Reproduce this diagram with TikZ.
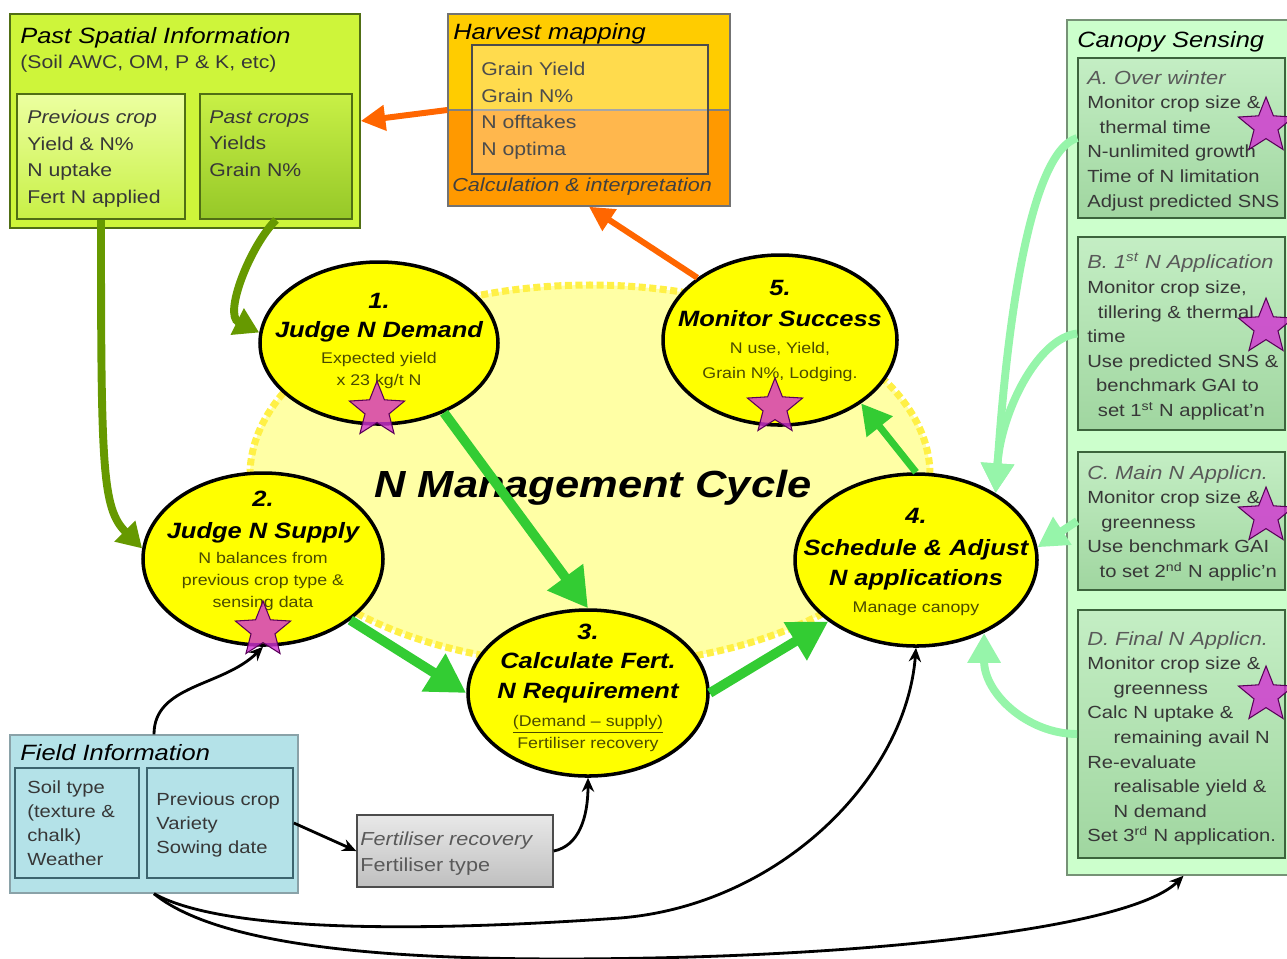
\documentclass[tikz,border=0pt]{standalone}
\usepackage{fontspec}
\setmainfont{Liberation Sans}[FakeStretch=1.15]
\usetikzlibrary{arrows.meta,shapes.geometric,fit,calc}

\newlength\pxu
\setlength\pxu{0.02cm}

\definecolor{limeout}{RGB}{206,245,58}
\definecolor{limelt}{RGB}{236,255,160}
\definecolor{limemid}{RGB}{200,240,70}
\definecolor{limedk}{RGB}{150,200,40}
\definecolor{limeedge}{RGB}{80,110,20}
\definecolor{hvtop}{RGB}{255,204,0}
\definecolor{hvbot}{RGB}{255,153,0}
\definecolor{canout}{RGB}{204,255,204}
\definecolor{cantop}{RGB}{196,238,196}
\definecolor{canbot}{RGB}{160,214,160}
\definecolor{canedge}{RGB}{60,100,60}
\definecolor{fieldbg}{RGB}{180,226,232}
\definecolor{fieldedge}{RGB}{60,100,110}
\definecolor{cycbg}{RGB}{255,255,165}
\definecolor{cycdot}{RGB}{255,240,70}
\definecolor{cycfill}{RGB}{255,255,0}
\definecolor{cycgreen}{RGB}{51,204,51}
\definecolor{pastgreen}{RGB}{102,153,0}
\definecolor{cangreen}{RGB}{150,245,170}
\definecolor{hvorange}{RGB}{255,102,0}
\definecolor{starfill}{RGB}{210,50,210}
\definecolor{stardraw}{RGB}{90,0,90}
\definecolor{subtext}{RGB}{75,75,0}
\definecolor{bodytext}{RGB}{55,55,55}

\newcommand\ttlfont{\fontsize{12.6}{15}\selectfont\itshape}
\newcommand\bodyfont{\fontsize{10.5}{15.1}\selectfont}
\newcommand\canfont{\fontsize{10}{14}\selectfont}
\newcommand\csub{\fontsize{10.8}{14}\selectfont\itshape\color{black!65}}
\newcommand\elltitle{\fontsize{12.6}{16.5}\selectfont\bfseries\itshape}
\newcommand\ellsub{\fontsize{8.8}{12}\selectfont\mdseries\upshape\color{subtext}}

\tikzset{
  outbox/.style={rectangle, inner sep=0pt, line width=0.8pt},
  inbox/.style={rectangle, inner sep=0pt, line width=1pt},
  txt/.style={anchor=north west, inner sep=0pt, align=left},
  ell/.style={ellipse, draw=black, line width=2pt, fill=cycfill, inner sep=0pt},
  elltxt/.style={inner sep=0pt, align=center, font=\elltitle},
  starmark/.style={star, star points=5, star point ratio=2.3, minimum size=58\pxu,
    inner sep=0pt, fill=starfill, fill opacity=0.8, draw=stardraw, line width=0.6pt},
  cycarrow/.style={draw=cycgreen, line width=5.5pt, -{Triangle[length=22pt,width=24pt]}},
  fourarrow/.style={draw=cycgreen, line width=4pt, -{Triangle[length=17pt,width=18pt]}},
  pastarrow/.style={draw=pastgreen, line width=4.5pt, -{Triangle[length=14pt,width=16pt]}},
  canarrow/.style={draw=cangreen, line width=4.5pt, -{Triangle[length=17pt,width=18pt]}},
  hvarrow/.style={draw=hvorange, line width=3.4pt, -{Triangle[length=14pt,width=14pt]}},
  infoarrow/.style={draw=black, line width=1.6pt, -{Stealth[length=8pt,width=7pt]}}
}

\begin{document}
\begin{tikzpicture}[x=0.02cm,y=-0.02cm]
\useasboundingbox (0,0) rectangle (1287,958);
\clip (0,0) rectangle (1287,958);

\node[ellipse, minimum width=680\pxu, minimum height=380\pxu, fill=cycbg,
  draw=cycdot, line width=4pt, dotted] (cyc) at (590,475) {};

\node[outbox, fill=limeout, draw=limeedge, fit={(10,14) (360,228)}] (past) {};
\node[inbox, top color=limelt, bottom color=limemid, draw=limeedge, fit={(17,94) (185,219)}] (pastL) {};
\node[inbox, top color=limemid, bottom color=limedk, draw=limeedge, fit={(200,94) (352,219)}] (pastR) {};
\node[txt, font=\ttlfont] (pastttl) at (20,27) {Past Spatial Information};
\node[txt, font=\bodyfont, text=bodytext] (pastsub) at (20,55) {(Soil AWC, OM, P \& K, etc)};
\node[txt, font=\bodyfont, text=bodytext] (pastLtxt) at (27,110)
  {\textit{Previous crop}\\Yield \& N\%\\N uptake\\Fert N applied};
\node[txt, font=\bodyfont, text=bodytext] (pastRtxt) at (209,110)
  {\textit{Past crops}\\Yields\\Grain N\%};

\node[outbox, fill=hvbot, draw=black!55, fit={(448,14) (730,206)},
  path picture={\fill[hvtop] (path picture bounding box.north west) rectangle (path picture bounding box.east);
    \draw[black!50, line width=0.6pt] (path picture bounding box.west) -- (path picture bounding box.east);}] (harvest) {};
\node[inbox, fill=white, fill opacity=0.3, draw=black!70, fit={(472,45) (708,174)}] (hvin) {};
\node[txt, font=\ttlfont] (hvttl) at (453,23) {Harvest mapping};
\node[txt, font=\bodyfont, text=black!70] (hvtxt) at (481,62)
  {Grain Yield\\Grain N\%\\N offtakes\\N optima};
\node[txt, font=\fontsize{10.7}{15}\selectfont\itshape, text=black!75] (hvcalc) at (452,178) {Calculation \& interpretation};

\node[outbox, fill=canout, draw=canedge!70, fit={(1067,20) (1300,875)}] (canopy) {};
\node[inbox, top color=cantop, bottom color=canbot, draw=canedge, fit={(1078,58) (1285,218)}] (canA) {};
\node[inbox, top color=cantop, bottom color=canbot, draw=canedge, fit={(1078,237) (1285,430)}] (canB) {};
\node[inbox, top color=cantop, bottom color=canbot, draw=canedge, fit={(1078,452) (1285,590)}] (canC) {};
\node[inbox, top color=cantop, bottom color=canbot, draw=canedge, fit={(1078,610) (1285,858)}] (canD) {};
\node[txt, font=\ttlfont] (canttl) at (1077,31) {Canopy Sensing};
\node[txt, font=\canfont, text=bodytext] (canAtxt) at (1087,70)
  {{\csub A. Over winter}\\Monitor crop size \&\\\hspace*{7pt}thermal time\\N-unlimited growth\\Time of N limitation\\Adjust predicted SNS};
\node[txt, font=\canfont, text=bodytext] (canBtxt) at (1087,253)
  {{\csub B. 1\textsuperscript{st} N Application}\\Monitor crop size,\\\hspace*{6pt}tillering \& thermal\\time\\Use predicted SNS \&\\\hspace*{5pt}benchmark GAI to\\\hspace*{6pt}set 1\textsuperscript{st} N applicat'n};
\node[txt, font=\canfont, text=bodytext] (canCtxt) at (1087,465)
  {{\csub C. Main N Applicn.}\\Monitor crop size \&\\\hspace*{8pt}greenness\\Use benchmark GAI\\\hspace*{7pt}to set 2\textsuperscript{nd} N applic'n};
\node[txt, font=\canfont, text=bodytext] (canDtxt) at (1087,631)
  {{\csub D. Final N Applicn.}\\Monitor crop size \&\\\hspace*{15pt}greenness\\Calc N uptake \&\\\hspace*{15pt}remaining avail N\\Re-evaluate\\\hspace*{15pt}realisable yield \&\\\hspace*{15pt}N demand\\Set 3\textsuperscript{rd} N application.};

\node[outbox, fill=fieldbg, draw=fieldedge!60, fit={(10,735) (298,893)}] (field) {};
\node[inbox, fill=fieldbg, draw=fieldedge, fit={(15,768) (139,878)}] (fieldL) {};
\node[inbox, fill=fieldbg, draw=fieldedge, fit={(147,768) (293,878)}] (fieldR) {};
\node[txt, font=\ttlfont] (fieldttl) at (20,744) {Field Information};
\node[txt, font=\fontsize{10}{13.8}\selectfont, text=bodytext] (fieldLtxt) at (27,780)
  {Soil type\\(texture \&\\chalk)\\Weather};
\node[txt, font=\fontsize{10}{13.8}\selectfont, text=bodytext] (fieldRtxt) at (156,792)
  {Previous crop\\Variety\\Sowing date};

\node[outbox, top color=gray!18, bottom color=gray!50, draw=gray!60!black, fit={(357,815) (553,887)}] (fert) {};
\node[txt, font=\fontsize{10.7}{14.7}\selectfont, text=black!65] (ferttxt) at (360,832)
  {\textit{Fertiliser recovery}\\Fertiliser type};

\node[font=\fontsize{21.5}{24}\selectfont\bfseries\itshape] (cycttl) at (593,488) {N Management Cycle};

\begin{scope}[every node/.style={ell}]
  \node[minimum width=238\pxu, minimum height=162\pxu] (1) at (379,343) {};
  \node[minimum width=240\pxu, minimum height=172\pxu] (2) at (263,559) {};
  \node[minimum width=240\pxu, minimum height=166\pxu] (3) at (588,693) {};
  \node[minimum width=242\pxu, minimum height=172\pxu] (4) at (916,560) {};
  \node[minimum width=234\pxu, minimum height=170\pxu] (5) at (780,340) {};
\end{scope}

\begin{scope}[every node/.style={elltxt}]
  \node (t1) at (379,341)
    {1.\\Judge N Demand\\[-1.8pt]{\ellsub Expected yield}\\[-4pt]{\ellsub x 23 kg/t N}};
  \node (t2) at (263,551)
    {2.\\[1.6pt]Judge N Supply\\[-1.8pt]{\ellsub N balances from}\\[-4pt]{\ellsub previous crop type \&}\\[-4pt]{\ellsub sensing data}};
  \node (t3) at (588,688)
    {3.\\Calculate Fert.\\[0.5pt]N Requirement\\[-0.6pt]{\ellsub\underline{(Demand -- supply)}}\\[-4pt]{\ellsub Fertiliser recovery}};
  \node (t4) at (916,562)
    {4.\\[1.6pt]Schedule \& Adjust\\[1.1pt]N applications\\[-1.2pt]{\ellsub Manage canopy}};
  \node (t5) at (780,331)
    {5.\\[1.1pt]Monitor Success\\[-1.2pt]{\ellsub N use, Yield,}\\[-2.3pt]{\ellsub Grain N\%, Lodging.}};
\end{scope}

\begin{scope}[every node/.style={starmark}]
  \node (s1) at (377,410) {};
  \node (s2) at (263,630) {};
  \node (s5) at (775,407) {};
  \node (sA) at (1266,126) {};
  \node (sB) at (1266,327) {};
  \node (sC) at (1266,516) {};
  \node (sD) at (1266,695) {};
\end{scope}

\path (1.-47) edge[cycarrow] (3.north);
\path (2.-35) edge[cycarrow] (3.west);
\path (3.east) edge[cycarrow] (4.215);
\path (4.north) edge[fourarrow] (5.-38);

\path (5.143) edge[hvarrow] (harvest.south);
\path (harvest.west) edge[hvarrow] (past.east);

\draw[pastarrow] (pastL.south) .. controls +(0,250) and +(-40,-40) .. (2.175);
\draw[pastarrow] (pastR.south) .. controls +(-26,26) and +(-36,-18) .. (1.175);

\draw[canarrow] (canA.west) .. controls +(-50,15) and +(10,-150) .. (4.40);
\draw[canarrow] (canB.west) .. controls +(-40,5) and +(5,-80) .. (4.40);
\path (canC.west) edge[canarrow] (4.6);
\draw[canarrow] (canD.west) .. controls +(-50,0) and +(0,60) .. (4.-47);

\draw[infoarrow] (field.north) .. controls +(0,-50) and +(-40,40) .. (2.south);
\path (fieldR.east) edge[infoarrow] (fert.west);
\draw[infoarrow] (fert.east) .. controls +(25,-5) and +(0,40) .. (3.south);
\draw[infoarrow] (field.south) .. controls +(76,42) and +(-170,12) .. (620,918)
  .. controls +(160,-13) and +(-10,130) .. (4.south);
\draw[infoarrow] (field.south) .. controls +(76,62) and +(-200,4) .. (650,958)
  .. controls +(250,-5) and +(-50,50) .. (canopy.south);

\end{tikzpicture}
\end{document}
